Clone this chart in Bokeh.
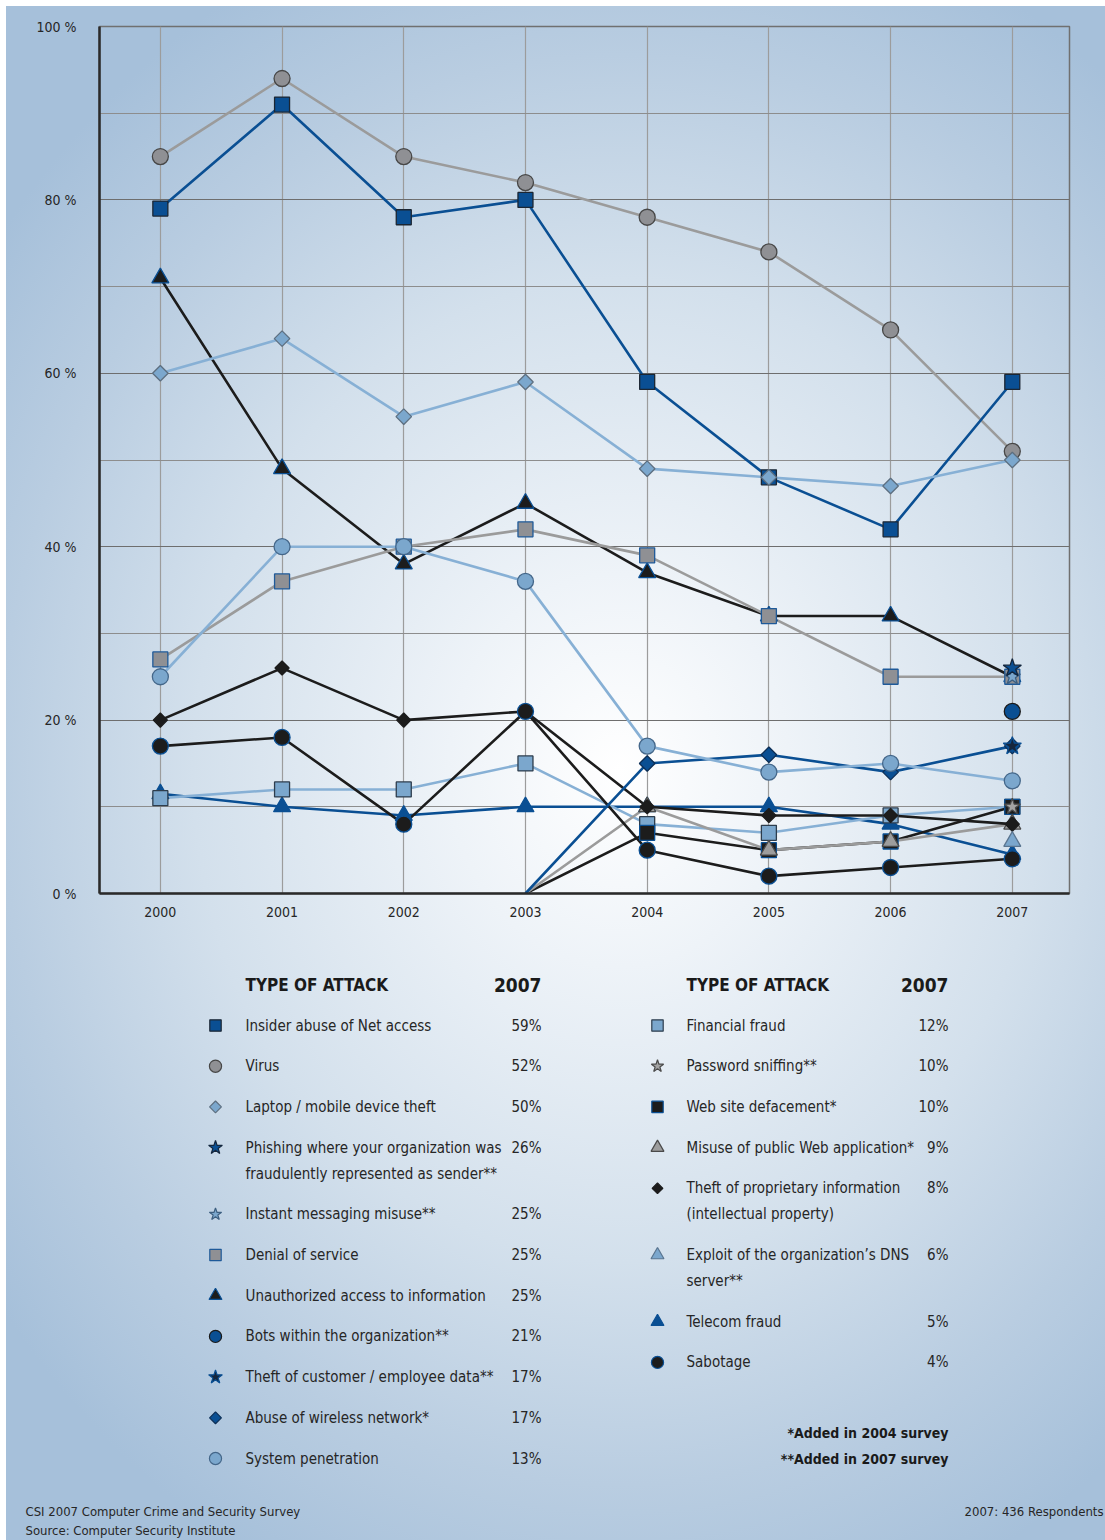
import math
from bokeh.plotting import figure
from bokeh.layouts import column, row
from bokeh.models import Range1d, FixedTicker, Grid
from bokeh.core.properties import value
from bokeh.embed import file_html
from bokeh.resources import INLINE

# ---------------- data ----------------
years = [2000, 2001, 2002, 2003, 2004, 2005, 2006, 2007]
y_ticks = [0, 20, 40, 60, 80, 100]

insider      = [79, 91, 78, 80, 59, 48, 42, 59]
virus        = [85, 94, 85, 82, 78, 74, 65, 51]
laptop       = [60, 64, 55, 59, 49, 48, 47, 50]
unauthorized = [71, 49, 38, 45, 37, 32, 32, 25]
dos          = [27, 36, 40, 42, 39, 32, 25, 25]
syspen       = [25, 40, 40, 36, 17, 14, 15, 13]
proprietary  = [20, 26, 20, 21, 10, 9, 9, 8]
sabotage     = [17, 18, 8, 21, 5, 2, 3, 4]
telecom      = [11.5, 10, 9, 10, 10, 10, 8, 4.5]
financial    = [11, 12, 12, 15, 8, 7, 9, 10]
wireless     = [None, None, None, 0, 15, 16, 14, 17]
webdef       = [None, None, None, 0, 7, 5, 6, 10]
misuse       = [None, None, None, 0, 10, 5, 6, 8]
phishing     = [None, None, None, None, None, None, None, 26]
im_misuse    = [None, None, None, None, None, None, None, 25]
bots         = [None, None, None, None, None, None, None, 21]
theft_cust   = [None, None, None, None, None, None, None, 17]
pwd_sniff    = [None, None, None, None, None, None, None, 10]
dns          = [None, None, None, None, None, None, None, 6]

left_names = ["Insider abuse of Net access", "Virus", "Laptop / mobile device theft",
              "Phishing where your organization was\nfraudulently represented as sender**",
              "Instant messaging misuse**", "Denial of service",
              "Unauthorized access to information", "Bots within the organization**",
              "Theft of customer / employee data**", "Abuse of wireless network*",
              "System penetration"]
left_pct = ["59%", "52%", "50%", "26%", "25%", "25%", "25%", "21%", "17%", "17%", "13%"]
right_names = ["Financial fraud", "Password sniffing**", "Web site defacement*",
               "Misuse of public Web application*",
               "Theft of proprietary information\n (intellectual property)",
               "Exploit of the organization\u2019s DNS\nserver**",
               "Telecom fraud", "Sabotage"]
right_pct = ["12%", "10%", "10%", "9%", "8%", "6%", "5%", "4%"]

footer_left = ["CSI 2007 Computer Crime and Security Survey", "Source: Computer Security Institute"]
footer_right = ["2007: 436 Respondents"]

# ---------------- styles ----------------
DB = "#0a4f93"
BK = "#1c1c1c"
GR = "#9b9b9b"
GRF = "#8f9094"
LB = "#7ba7cd"
LBL = "#87b0d5"
ROT = math.pi / 4

S = {
    "Insider abuse of Net access": dict(v=insider, line=DB, m="square", fill=DB, edge="#1b2633", size=15, a=0),
    "Virus": dict(v=virus, line=GR, m="circle", fill=GRF, edge="#474747", size=16, a=0),
    "Laptop / mobile device theft": dict(v=laptop, line=LBL, m="square", fill=LB, edge="#5d6f80", size=11, a=ROT),
    "Phishing where your organization was\nfraudulently represented as sender**": dict(v=phishing, line=DB, m="star", fill=DB, edge="#13263d", size=19, a=0),
    "Instant messaging misuse**": dict(v=im_misuse, line=LB, m="star", fill=LB, edge="#3d5f80", size=17, a=0),
    "Denial of service": dict(v=dos, line=GR, m="square", fill=GRF, edge="#1f5a99", size=15, a=0),
    "Unauthorized access to information": dict(v=unauthorized, line=BK, m="triangle", fill=BK, edge=DB, size=17, a=0),
    "Bots within the organization**": dict(v=bots, line=DB, m="circle", fill=DB, edge="#1a1a1a", size=16, a=0),
    "Theft of customer / employee data**": dict(v=theft_cust, line=DB, m="star", fill="#15263d", edge=DB, size=19, a=0),
    "Abuse of wireless network*": dict(v=wireless, line=DB, m="square", fill=DB, edge="#0c2e55", size=11, a=ROT),
    "System penetration": dict(v=syspen, line=LBL, m="circle", fill=LB, edge="#44678a", size=16, a=0),
    "Financial fraud": dict(v=financial, line=LBL, m="square", fill=LB, edge="#2d3d4d", size=15, a=0),
    "Password sniffing**": dict(v=pwd_sniff, line=GR, m="star", fill="#a3a3a3", edge="#4a4a4a", size=17, a=0),
    "Web site defacement*": dict(v=webdef, line=BK, m="square", fill=BK, edge=DB, size=15, a=0),
    "Misuse of public Web application*": dict(v=misuse, line=GR, m="triangle", fill="#9d9d9d", edge="#4a4a4a", size=17, a=0),
    "Theft of proprietary information\n (intellectual property)": dict(v=proprietary, line=BK, m="square", fill=BK, edge=BK, size=10, a=ROT),
    "Exploit of the organization\u2019s DNS\nserver**": dict(v=dns, line=LB, m="triangle", fill=LB, edge="#5a7590", size=17, a=0),
    "Telecom fraud": dict(v=telecom, line=DB, m="triangle", fill=DB, edge=DB, size=17, a=0),
    "Sabotage": dict(v=sabotage, line=BK, m="circle", fill=BK, edge=DB, size=16, a=0),
}

draw_order = ["Telecom fraud", "Financial fraud", "Web site defacement*",
              "Misuse of public Web application*",
              "Theft of proprietary information\n (intellectual property)", "Sabotage",
              "Abuse of wireless network*", "Unauthorized access to information",
              "Denial of service", "System penetration", "Virus",
              "Insider abuse of Net access", "Laptop / mobile device theft",
              "Password sniffing**", "Exploit of the organization\u2019s DNS\nserver**",
              "Bots within the organization**", "Instant messaging misuse**",
              "Theft of customer / employee data**",
              "Phishing where your organization was\nfraudulently represented as sender**"]

FONT = "'Liberation Sans Narrow', 'DejaVu Sans Condensed', 'Roboto Condensed', 'Arial Narrow', sans-serif"
TXT = "#262626"

# ---------------- chart ----------------
p = figure(width=1105, height=940, x_range=Range1d(1999.5, 2007.47), y_range=Range1d(0, 100),
           output_backend="svg", toolbar_location=None,
           min_border_left=99, min_border_right=36, min_border_top=26, min_border_bottom=47)
p.background_fill_alpha = 0
p.border_fill_alpha = 0
p.outline_line_color = "#707070"
p.outline_line_width = 1.5

p.xaxis.ticker = FixedTicker(ticks=years)
p.xaxis.major_label_overrides = {y: str(y) for y in years}
p.yaxis.ticker = FixedTicker(ticks=y_ticks)
p.yaxis.major_label_overrides = {t: f"{t} %" for t in y_ticks}
for ax in (p.xaxis, p.yaxis):
    ax.major_tick_line_color = None
    ax.minor_tick_line_color = None
    ax.axis_line_color = "#2a2a2a"
    ax.axis_line_width = 2.5
    ax.major_label_text_font = FONT
    ax.major_label_text_font_size = "14px"
    ax.major_label_text_color = TXT
p.xaxis.major_label_standoff = 7
p.yaxis.major_label_standoff = 17

p.xgrid.ticker = FixedTicker(ticks=years)
p.xgrid.grid_line_color = "#9c9c9c"
p.xgrid.grid_line_width = 1.2
p.ygrid.ticker = FixedTicker(ticks=[20, 40, 60, 80])
p.ygrid.grid_line_color = "#6e6e6e"
p.ygrid.grid_line_width = 1.2
p.add_layout(Grid(dimension=1, ticker=FixedTicker(ticks=[10, 30, 50, 70, 90]),
                  grid_line_color="#8d8d8d", grid_line_width=1.1))

for name in draw_order:
    st = S[name]
    xs = [x for x, v in zip(years, st["v"]) if v is not None]
    ys = [v for v in st["v"] if v is not None]
    if len(xs) > 1:
        p.line(xs, ys, line_color=st["line"], line_width=2.6)

for name in draw_order:
    st = S[name]
    xs = [x for x, v in zip(years, st["v"]) if v is not None and v > 0]
    ys = [v for v in st["v"] if v is not None and v > 0]
    p.scatter(xs, ys, marker=st["m"], size=st["size"], fill_color=st["fill"],
              line_color=st["edge"], line_width=1.3, angle=st["a"])

# ---------------- legend panel (frame aligned with chart frame: x 99..1069) ----------------
q = figure(width=1105, height=555, x_range=Range1d(99, 1069), y_range=Range1d(1495, 940),
           x_axis_type=None, y_axis_type=None, output_backend="svg", toolbar_location=None,
           min_border_left=99, min_border_right=36, min_border_top=0, min_border_bottom=0)
q.background_fill_alpha = 0
q.border_fill_alpha = 0
q.outline_line_color = None
q.grid.visible = False

ITEM_SIZE = "15px"


def legend_column(names, pcts, mx, tx, px):
    y = 1025.0
    step, extra = 40.7, 26.0
    lx, ly, lt, vx, vy, vt = [], [], [], [], [], []
    for name, pct in zip(names, pcts):
        st = S[name]
        q.scatter([mx], [y], marker=st["m"], size=st["size"] * 0.76, fill_color=st["fill"],
                  line_color=st["edge"], line_width=1.2, angle=st["a"])
        lines = name.split("\n")
        for i, ln in enumerate(lines):
            lx.append(tx); ly.append(y + i * extra); lt.append(ln)
        vx.append(px); vy.append(y); vt.append(pct)
        y += step + extra * (len(lines) - 1)
    q.text(lx, ly, text=lt, text_font=value(FONT), text_font_size=ITEM_SIZE, text_color=TXT,
           text_baseline="middle", text_align="left")
    q.text(vx, vy, text=vt, text_font=value(FONT), text_font_size=ITEM_SIZE, text_color=TXT,
           text_baseline="middle", text_align="right")


legend_column(left_names, left_pct, 215, 245, 541)
legend_column(right_names, right_pct, 657, 686, 948)

for hx, vx in ((245, 541), (686, 948)):
    q.text([hx], [984], text=["TYPE OF ATTACK"], text_font=value(FONT), text_font_size="17px",
           text_font_style="bold", text_color="#1a1a1a", text_baseline="middle", text_align="left")
    q.text([vx], [984], text=["2007"], text_font=value(FONT), text_font_size="19px",
           text_font_style="bold", text_color="#1a1a1a", text_baseline="middle", text_align="right")

q.text([948, 948], [1432, 1458], text=["*Added in 2004 survey", "**Added in 2007 survey"],
       text_font=value(FONT), text_font_size="14px", text_font_style="bold", text_color="#1a1a1a",
       text_baseline="middle", text_align="right")

# ---------------- footer strip (full width) ----------------
f = figure(width=1105, height=45, x_range=Range1d(0, 1105), y_range=Range1d(1540, 1495),
           x_axis_type=None, y_axis_type=None, output_backend="svg", toolbar_location=None,
           min_border=0)
f.background_fill_alpha = 0
f.border_fill_alpha = 0
f.outline_line_color = None
f.grid.visible = False
f.text([25, 25], [1511, 1530], text=footer_left, text_font=value(FONT), text_font_size="13px",
       text_color=TXT, text_baseline="middle", text_align="left")
f.text([1103], [1511], text=footer_right, text_font=value(FONT), text_font_size="13px",
       text_color=TXT, text_baseline="middle", text_align="right")

BG = ("linear-gradient(#ffffff, #ffffff) top left / 100% 6px no-repeat, "
      "linear-gradient(#ffffff, #ffffff) top left / 6px 100% no-repeat, "
      "radial-gradient(ellipse 70% 58% at 56% 50%, #ffffff 0%, #eef3f8 22%, #d3e0ec 55%, #b9cde1 80%, #a6c0da 100%)")

layout = column(p, q, row(f), spacing=0, styles={"background": BG})

with open("out.html", "w") as fh:
    fh.write(file_html(layout, INLINE))
